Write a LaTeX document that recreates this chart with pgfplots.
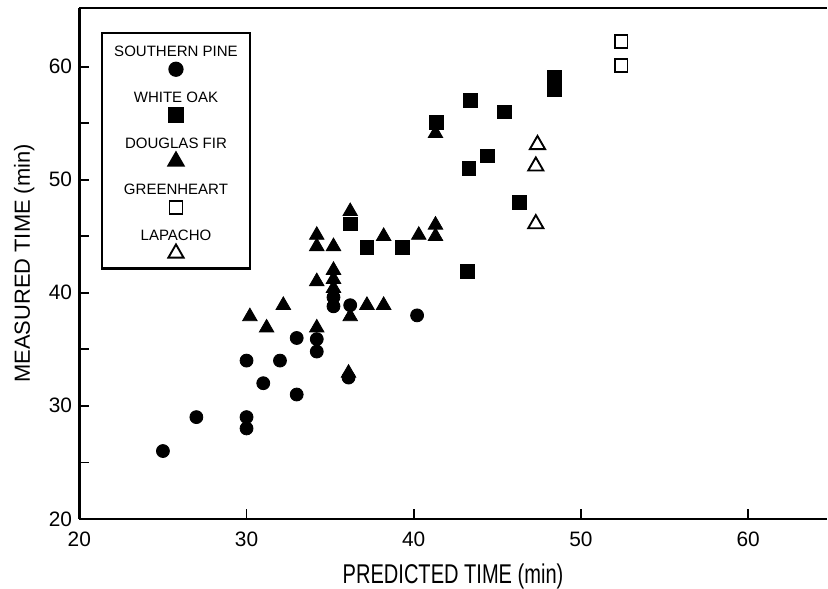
\documentclass[border=0pt]{standalone}
\usepackage{fontspec}
\setmainfont{Liberation Sans}
\usepackage{pgfplots}
\pgfplotsset{compat=1.18}

\begin{document}
\begin{tikzpicture}
\begin{axis}[
  scale only axis, width=358.4pt, height=245pt,
  xmin=20, xmax=64.7, ymin=20, ymax=65.2,
  axis x line=box, axis y line=left,
  axis line style={-, line width=1.2pt},
  xtick={20,30,...,60}, ytick={20,25,...,60},
  yticklabels={20,,30,,40,,50,,60},
  xtick pos=bottom, ytick pos=left, tick align=inside,
  major tick length=4.5pt,
  tick style={line width=0.8pt, black},
  /pgf/number format/assume math mode=true,
  ticklabel style={font=\fontsize{10}{12}\selectfont},
  xticklabel style={yshift=-2.5pt},
  xlabel={\scalebox{0.74}[1]{PREDICTED TIME (min)}},
  xlabel style={font=\fontsize{13}{14}\selectfont, inner sep=0pt, yshift=-4.8pt},
  ylabel={MEASURED TIME (min)},
  ylabel style={font=\fontsize{10.5}{12}\selectfont},
  % marker drawn under the name, outside the cell's box
  legend image code/.code={\draw[#1, overlay] plot coordinates {(29.6pt,-5pt)};},
  legend style={at={(rel axis cs:0.029,0.953)}, anchor=north west,
    draw=black, line width=1.1pt, font=\fontsize{7.2}{9}\selectfont,
    nodes={inner sep=0pt, text height=5.2pt, text depth=7.3pt},
    row sep=9.55pt, inner xsep=5.8pt, inner ysep=6.1pt},
]
% southern pine
\addplot[only marks, mark=*, mark size=3.1pt, black] coordinates {
 (25,26) (27,29) (30,29) (30,28) (30,34) (31,32) (32,34) (33,36) (33,31)
 (34.2,35.9) (34.2,34.8) (35.2,39.6) (35.2,38.8) (36.2,38.9) (36.1,32.5) (40.2,38)
};
\addlegendentry{SOUTHERN PINE}
% white oak
\addplot[only marks, mark=square*, mark size=3.3pt, black] coordinates {
 (36.2,46.1) (37.2,44) (39.3,44) (41.35,55.1) (43.4,57) (45.4,56) (44.4,52.1)
 (43.3,51) (46.3,48) (43.2,41.9) (48.4,59.1) (48.4,58)
};
\addlegendentry{WHITE OAK}
% douglas fir
\addplot[only marks, mark=triangle*, mark size=4pt, black] coordinates {
 (30.2,37.9) (31.2,36.9) (32.2,38.9) (34.2,45.1) (34.2,44.1) (34.2,41) (34.2,36.9)
 (35.2,44.1) (35.2,42) (35.2,41.2) (35.2,40.4) (36.2,47.2) (36.2,37.9) (36.1,32.9)
 (37.2,38.9) (38.2,38.9) (38.2,45) (40.3,45.1) (41.3,46) (41.3,45) (41.3,54.1)
};
\addlegendentry{DOUGLAS FIR}
% greenheart
\addplot[only marks, mark=square, mark size=3.1pt, black, mark options={line width=0.9pt}] coordinates {
 (52.4,62.2) (52.4,60.1)
};
\addlegendentry{GREENHEART}
% lapacho
\addplot[only marks, mark=triangle, mark size=4.2pt, black, mark options={line width=0.9pt}] coordinates {
 (47.4,53.1) (47.3,51.2) (47.3,46.1)
};
\addlegendentry{LAPACHO}
\coordinate (tl) at (rel axis cs:0,1);
\end{axis}
\path (tl) ++(0,3.8pt);
\path ([xshift=-3.4pt]current bounding box.west);
\end{tikzpicture}
\end{document}
